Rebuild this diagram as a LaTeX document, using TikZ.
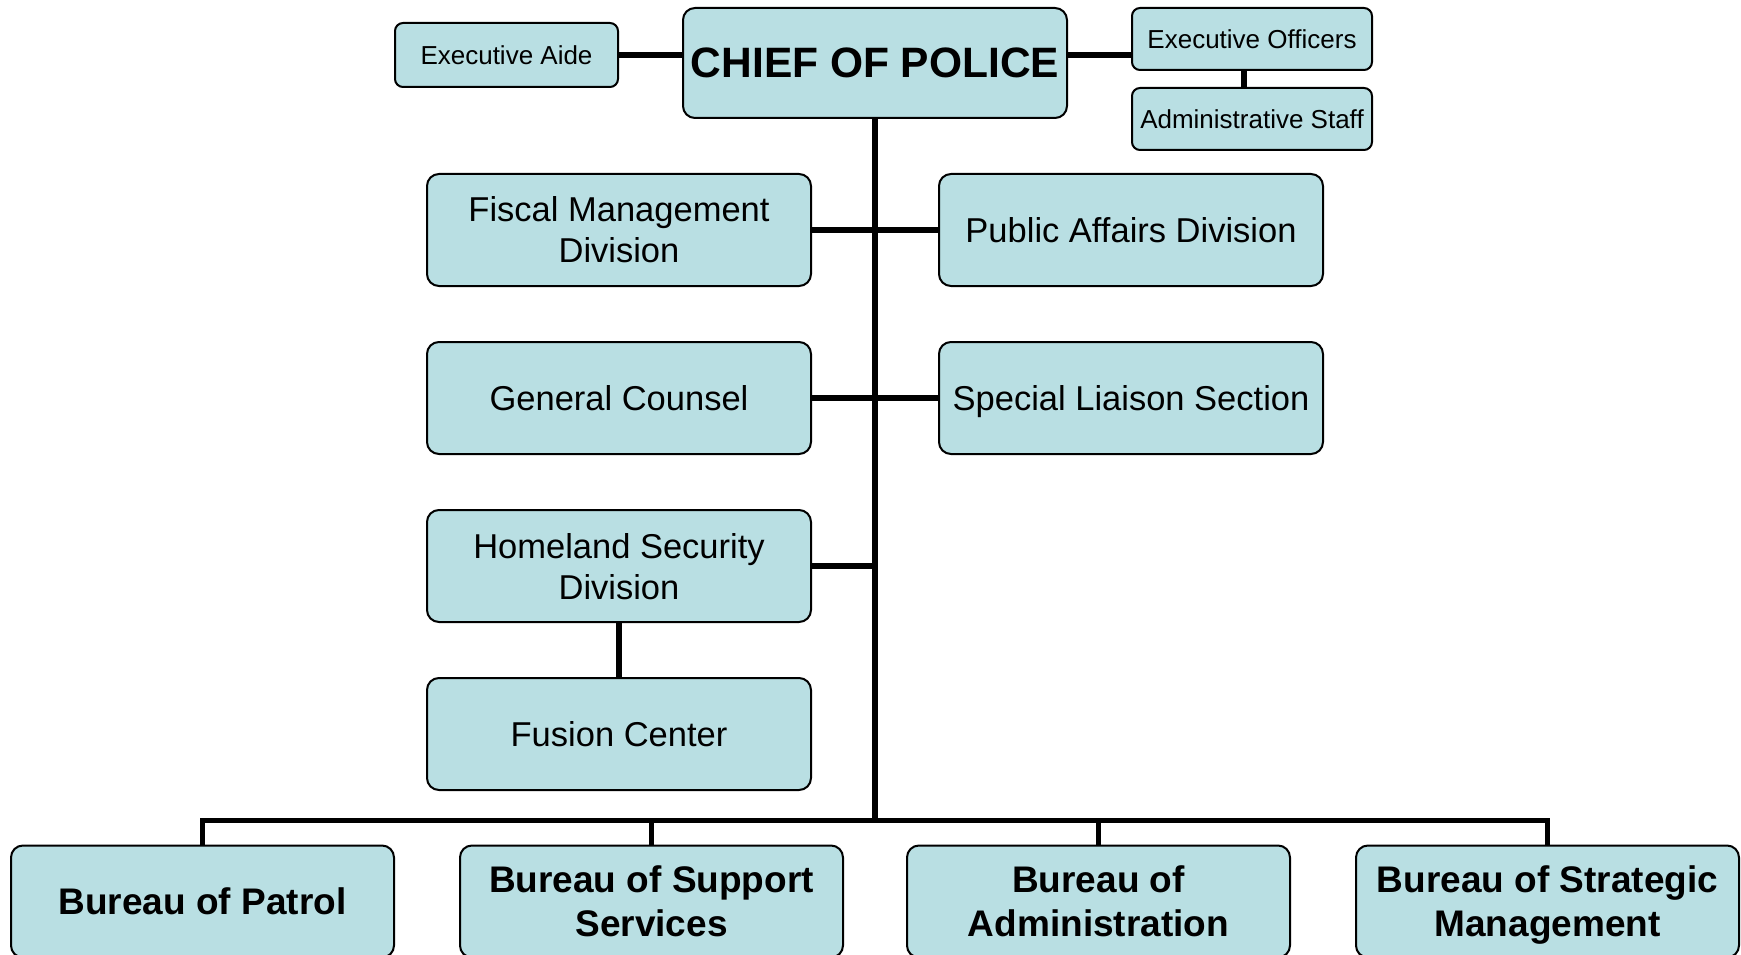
\documentclass[tikz,border=0pt]{standalone}
\usepackage{fontspec}
\setmainfont{Liberation Sans}
\usepackage{xcolor}
\usepackage{tikz}
\definecolor{boxblue}{RGB}{185, 223, 227}
\usetikzlibrary{positioning, calc}

\begin{document}
\begin{tikzpicture}[
    x=1pt, y=-1pt,
    orgbox/.style={rectangle, rounded corners=12pt, draw=black, line width=2pt,
                   fill=boxblue, align=center, text depth=0pt},
    smallbox/.style={orgbox, rounded corners=8pt, minimum width=223pt, minimum height=64pt,
                     font=\fontsize{26}{31}\selectfont},
    staffbox/.style={smallbox, minimum width=240pt, minimum height=62pt},
    chiefbox/.style={orgbox, minimum width=384pt, minimum height=110pt,
                     font=\fontsize{42.5}{50}\selectfont\bfseries},
    divbox/.style={orgbox, minimum width=384pt, minimum height=112pt,
                   font=\fontsize{34.5}{41}\selectfont},
    bureaubox/.style={orgbox, minimum width=383pt, minimum height=112pt,
                      font=\fontsize{37}{44}\selectfont\bfseries},
    link/.style={line width=5.7pt}
]
    \useasboundingbox (0,0) rectangle (1741,955);

    % Top level
    \node[chiefbox] (chief) at (875,63) {CHIEF OF POLICE};
    \node[smallbox, left=63pt of chief, yshift=8pt] (aide) {Executive Aide};
    \node[staffbox, right=63pt of chief, yshift=24pt] (officers) {Executive Officers};
    \node[staffbox, below=16pt of officers] (staff) {Administrative Staff};

    % Divisions
    \node[divbox] (fiscal) at (619,230) {Fiscal Management\\Division};
    \node[divbox, right=126pt of fiscal] (public) {Public Affairs Division};
    \node[divbox, below=54pt of fiscal] (counsel) {General Counsel};
    \node[divbox, right=126pt of counsel] (liaison) {Special Liaison Section};
    \node[divbox, below=54pt of counsel] (homeland) {Homeland Security\\Division};
    \node[divbox, below=54pt of homeland] (fusion) {Fusion Center};

    % Bureaus
    \node[bureaubox] (patrol) at (202.5,901.5) {Bureau of Patrol};
    \node[bureaubox, right=64pt of patrol] (support) {Bureau of Support\\Services};
    \node[bureaubox, right=62pt of support] (admin) {Bureau of\\Administration};
    \node[bureaubox, right=64pt of admin] (strategic) {Bureau of Strategic\\Management};

    \coordinate[above=24pt of patrol.north] (busleft);
    \coordinate[above=24pt of strategic.north] (busright);

    % Connectors
    \draw[link] (aide.east) -- (aide.east -| chief.west);
    \draw[link] (chief.east |- aide.east) -- (officers.west |- aide.east);
    \draw[link] ([xshift=-8pt]officers.south) -- ([xshift=-8pt]staff.north);
    \draw[link] (chief.south) -- (chief.south |- busleft);
    \draw[link] (fiscal.east) -- (public.west);
    \draw[link] (counsel.east) -- (liaison.west);
    \draw[link] (homeland.east) -- (homeland.east -| chief.south);
    \draw[link] (homeland.south) -- (fusion.north);
    \draw[link] (patrol.north) -- (busleft) -- (busright) -- (strategic.north);
    \draw[link] (support.north) -- (support.north |- busleft);
    \draw[link] (admin.north) -- (admin.north |- busleft);
\end{tikzpicture}
\end{document}
